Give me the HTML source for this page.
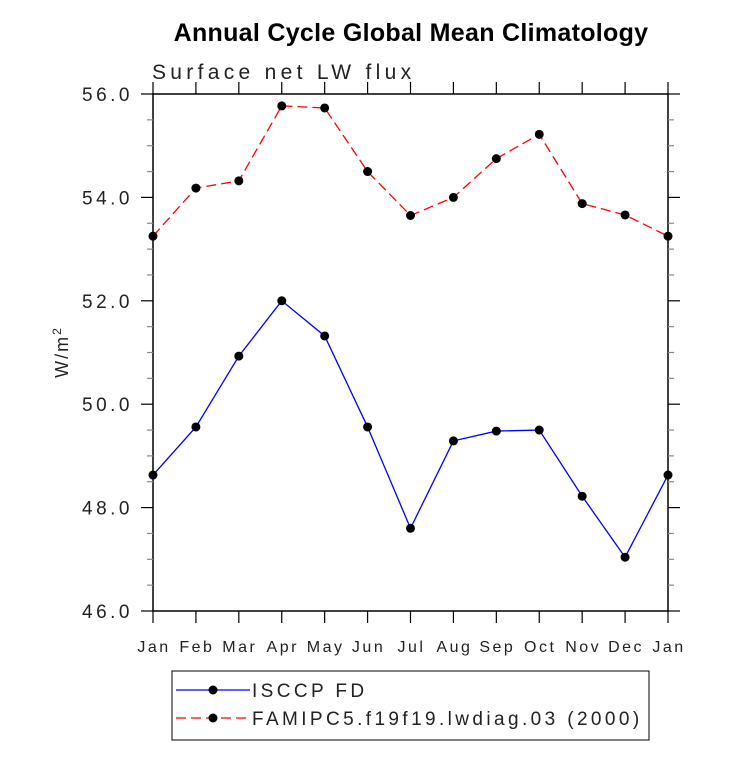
<!DOCTYPE html>
<html><head><meta charset="utf-8"><style>
body{margin:0;background:#fff;}
svg text{font-family:"Liberation Sans",sans-serif;}
</style></head><body>
<svg id="chart" width="733" height="760" xmlns="http://www.w3.org/2000/svg">
<text x="411" y="41" text-anchor="middle" font-size="25" font-weight="bold" letter-spacing="0.3">Annual Cycle Global Mean Climatology</text>
<text x="152" y="79" font-size="21" fill="#222" letter-spacing="4.3">Surface net LW flux</text>
<text transform="translate(68,352) rotate(-90)" text-anchor="middle" font-size="18" fill="#222" letter-spacing="2">W/m<tspan dy="-7" font-size="12">2</tspan></text>
<g id="axes"></g>
<g id="series"></g>
<g>
<rect x="172" y="671" width="477" height="69" fill="#fff" stroke="#000" stroke-width="1"/>
<line x1="176" y1="690" x2="250" y2="690" stroke="#00f" stroke-width="1.3"/>
<circle cx="213" cy="690" r="4.5" fill="#000"/>
<text x="252" y="697" font-size="19" fill="#222" letter-spacing="3.4">ISCCP FD</text>
<line x1="176" y1="718" x2="250" y2="718" stroke="#f00" stroke-width="1.3" stroke-dasharray="10,5"/>
<circle cx="213" cy="718" r="4.5" fill="#000"/>
<text x="252" y="725" font-size="19" fill="#222" letter-spacing="3.4">FAMIPC5.f19f19.lwdiag.03 (2000)</text>
</g>
</svg>
<script>
const months=["Jan","Feb","Mar","Apr","May","Jun","Jul","Aug","Sep","Oct","Nov","Dec","Jan"];
const isccp=[48.63,49.56,50.93,52.0,51.32,49.56,47.6,49.29,49.48,49.5,48.22,47.04,48.63];
const famipc5=[53.25,54.18,54.32,55.77,55.73,54.5,53.65,54.0,54.75,55.22,53.88,53.66,53.25];
const yTicks=["46.0","48.0","50.0","52.0","54.0","56.0"];
const NS="http://www.w3.org/2000/svg";
const L=153,R=668,T=94,B=611,ymin=46,ymax=56;
const xs=i=>L+(R-L)*i/(months.length-1);
const ys=v=>B-(B-T)*(v-ymin)/(ymax-ymin);
function mk(t,a,p){const e=document.createElementNS(NS,t);for(const k in a)e.setAttribute(k,a[k]);p.appendChild(e);return e;}
const ax=document.getElementById('axes');
const fr=mk('rect',{x:L,y:T,width:R-L,height:B-T,fill:'none',stroke:'#000','stroke-width':1.5},ax);


months.forEach((m,i)=>{const x=xs(i);
mk('line',{x1:x,y1:B,x2:x,y2:B+12,stroke:'#000','stroke-width':1.2},ax);
mk('line',{x1:x,y1:T,x2:x,y2:T-12,stroke:'#000','stroke-width':1.2},ax);
const t=mk('text',{x:x+1,y:B+41,'text-anchor':'middle','font-size':16,fill:'#222','letter-spacing':2.5},ax);t.textContent=m;

});
for(let v=ymin;v<=ymax+1e-9;v+=0.5){const y=ys(v);const maj=Math.abs(v/2-Math.round(v/2))<1e-6;const len=maj?12:6;
mk('line',{x1:L,y1:y,x2:L-len,y2:y,stroke:maj?'#000':'#888','stroke-width':1.2},ax);
mk('line',{x1:R,y1:y,x2:R+len,y2:y,stroke:maj?'#000':'#888','stroke-width':1.2},ax);}
yTicks.forEach(s=>{const y=ys(parseFloat(s));const t=mk('text',{x:L-20,y:y+7,'text-anchor':'end','font-size':19,fill:'#222','letter-spacing':3.5},ax);t.textContent=s;

});
const sg=document.getElementById('series');
function series(d,col,dash,name){
const p=mk('polyline',{points:d.map((v,i)=>xs(i)+','+ys(v)).join(' '),fill:'none',stroke:col,'stroke-width':1.3,'stroke-dasharray':dash},sg);


d.forEach((v,i)=>{const c=mk('circle',{cx:xs(i),cy:ys(v),r:4.5,fill:'#000'},sg);

});}
series(famipc5,'#f00','10,5','famipc5');
series(isccp,'#00f','none','isccp');
</script>
</body></html>
